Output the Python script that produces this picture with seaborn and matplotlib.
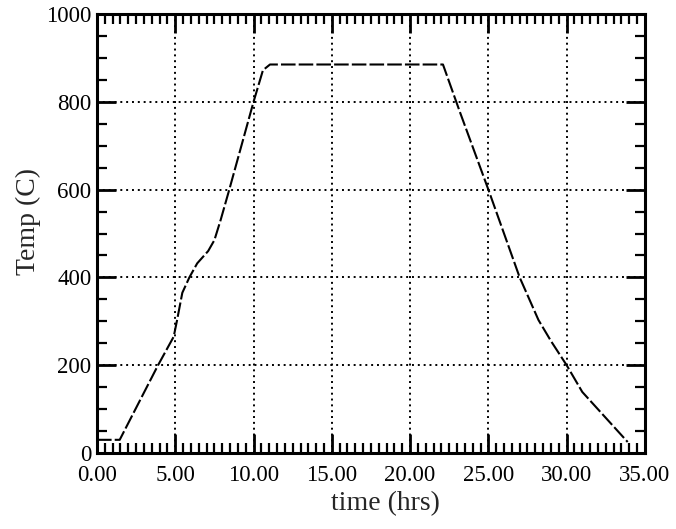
import matplotlib
matplotlib.use("Agg")
import matplotlib.pyplot as plt
import seaborn as sns
import pandas as pd
from matplotlib.ticker import MultipleLocator, FormatStrFormatter

time_hrs = [0.0, 1.45, 3.9, 4.9, 5.1, 5.45, 5.9, 6.4, 7.1, 7.5, 7.9, 8.45,
            10.0, 10.6, 11.05, 22.1, 23.2, 25.0, 26.0, 27.0, 28.2, 29.0,
            30.0, 31.0, 33.9]
temp_c = [30, 30, 200, 265, 300, 365, 400, 432, 460, 485, 531, 600,
          800, 872, 885, 885, 775, 600, 500, 400, 303, 255,
          200, 139, 25]

x_ticks = [0, 5, 10, 15, 20, 25, 30, 35]
y_ticks = [0, 200, 400, 600, 800, 1000]

sns.set_style("ticks")
plt.rcParams['font.family'] = ['Liberation Serif', 'DejaVu Serif']

df = pd.DataFrame({"time": time_hrs, "temp": temp_c})

fig = plt.figure(figsize=(6.76, 5.29), dpi=100)
ax = fig.add_axes([0.1435, 0.1437, 0.8105, 0.8298])

sns.lineplot(data=df, x="time", y="temp", ax=ax, color="black",
             linewidth=1.5, linestyle=(0, (7, 1.5)), sort=False)

ax.set_xlim(0, 35)
ax.set_ylim(0, 1000)
ax.set_xticks(x_ticks)
ax.set_yticks(y_ticks)
ax.xaxis.set_major_formatter(FormatStrFormatter('%.2f'))
ax.xaxis.set_minor_locator(MultipleLocator(0.5))
ax.yaxis.set_minor_locator(MultipleLocator(50))

ax.grid(True, which='major', color='black', linestyle=(0, (1, 2)), linewidth=1.4)

for s in ax.spines.values():
    s.set_visible(True)
    s.set_linewidth(2.2)
    s.set_color('black')

ax.tick_params(which='both', direction='in', top=True, right=True,
               bottom=True, left=True, colors='black', labelsize=16.5)
ax.tick_params(which='major', length=14, width=2.0)
ax.tick_params(axis='x', which='major', pad=9)
ax.tick_params(axis='y', which='major', pad=4)
ax.tick_params(which='minor', length=7, width=1.6)

ax.set_xlabel("time (hrs)", fontsize=20)
ax.set_ylabel("Temp (C)", fontsize=20)
ax.xaxis.set_label_coords(0.527, -0.087)
ax.yaxis.set_label_coords(-0.102, 0.528)

fig.savefig("out.png", dpi=100)
